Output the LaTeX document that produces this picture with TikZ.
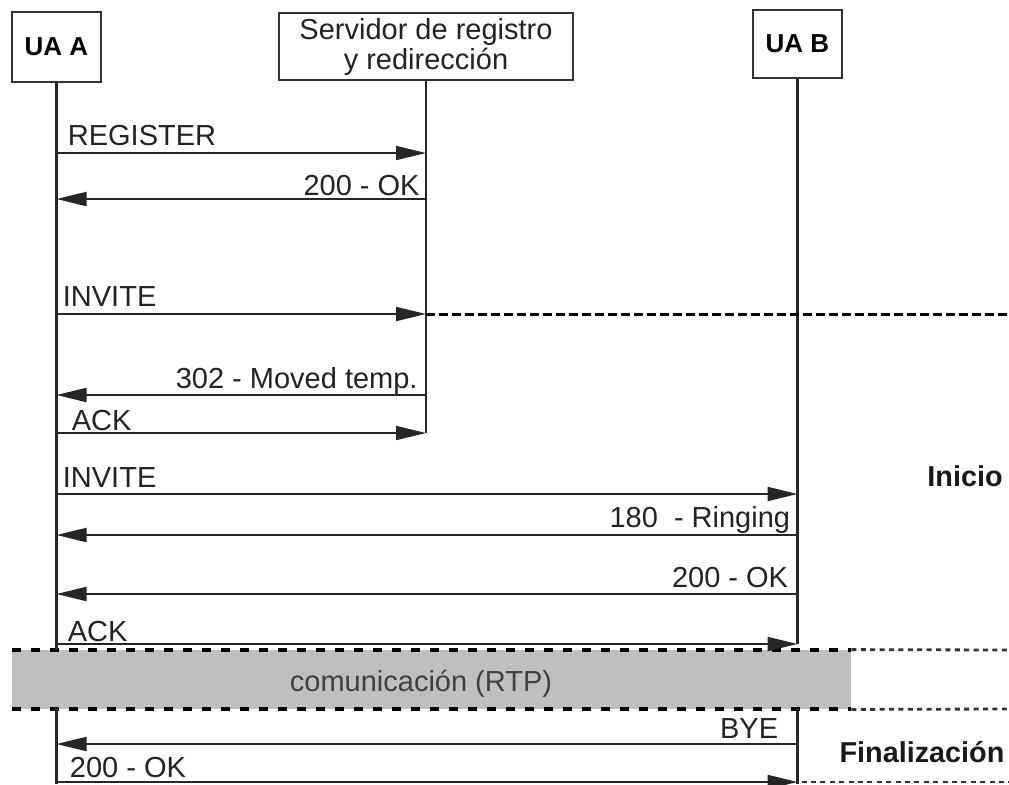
\documentclass[tikz,border=0pt]{standalone}
\usepackage{fontspec}
\setmainfont{Liberation Sans}
\usetikzlibrary{arrows.meta, positioning, calc}
\definecolor{cBand}{RGB}{191,191,191}
\definecolor{cText}{RGB}{35,35,35}
\tikzset{
	actor/.style={rectangle, draw=black!80, line width=1pt, fill=white, align=center, inner sep=0pt},
	lifeline/.style={line width=1.4pt, black!85},
	msg/.style={-{Triangle[length=15pt, width=7pt]}, line width=1pt, black!85},
	lbl/.style={inner sep=0pt, font=\fontsize{14.5}{15}\selectfont, text=cText},
	phase/.style={inner sep=0pt, font=\fontsize{14.4}{15}\selectfont\bfseries, text=black!90},
	invdash/.style={line width=1.5pt, dash pattern=on 4.5pt off 2pt},
	banddash/.style={line width=2pt, dash pattern=on 4.5pt off 5pt},
	bandtail/.style={line width=1.4pt, black!80, dash pattern=on 2.5pt off 2.2pt},
}
\begin{document}
\begin{tikzpicture}[x=0.5pt, y=-0.5pt]
	\useasboundingbox (0,0) rectangle (1009,784);
	% actors
	\node[actor, minimum width=44.5pt, minimum height=35pt, font=\fontsize{13}{14}\selectfont\bfseries] (uaA) at (56.5,47) {UA A};
	\node[actor, minimum width=147pt, minimum height=33.5pt, font=\fontsize{14.5}{15}\selectfont, text=cText] (srv) at (426,46.5) {Servidor de registro\\y redirección};
	\node[actor, minimum width=44.5pt, minimum height=34pt, font=\fontsize{13}{14}\selectfont\bfseries] (uaB) at (797.5,44) {UA B};
	% RTP band
	\node[rectangle, fill=cBand, inner sep=0pt, minimum width=419.5pt, minimum height=29.5pt] (rtp) at (431.5,679.5) {};
	\node[lbl, text=black!75] (rtpl) at (421,684) {comunicación (RTP)};
	\draw[banddash] (rtp.north west) -- (rtp.north east);
	\draw[banddash] (rtp.south west) -- (rtp.south east);
	\coordinate (t1) at (1009,650);
	\coordinate (t2) at (1009,709);
	\draw[bandtail] (rtp.north east) -- (t1);
	\draw[bandtail] (rtp.south east) -- (t2);
	% lifelines
	\draw[lifeline] (uaA.south) -- (uaA.south |- rtp.north);
	\draw[lifeline] (srv.south) -- (srv.south |- 0,433);
	\draw[lifeline] (uaB.south) -- (uaB.south |- 0,644);
	\draw[lifeline] (uaA.south |- rtp.south) -- (uaA.south |- 0,784);
	\draw[lifeline] (uaB.south |- rtp.south) -- (uaB.south |- 0,784);
	% registration
	\coordinate (a1) at (uaA.south |- 0,153); \coordinate (s1) at (srv.south |- 0,153);
	\draw[msg] (a1) -- (s1);
	\node[lbl, anchor=base west] (m1) at ($(a1)+(11,-8)$) {REGISTER};
	\coordinate (a2) at (uaA.south |- 0,199); \coordinate (s2) at (srv.south |- 0,199);
	\draw[msg] (s2) -- (a2);
	\node[lbl, anchor=base east] (m2) at ($(s2)+(-6,-4)$) {200 - OK};
	% redirection
	\coordinate (a3) at (uaA.south |- 0,314); \coordinate (s3) at (srv.south |- 0,314);
	\coordinate (e3) at (1009,314);
	\draw[msg] (a3) -- (s3);
	\draw[invdash] (s3) -- (e3);
	\node[lbl, anchor=base west] (m3) at ($(a3)+(6,-8)$) {INVITE};
	\coordinate (a4) at (uaA.south |- 0,395); \coordinate (s4) at (srv.south |- 0,395);
	\draw[msg] (s4) -- (a4);
	\node[lbl, anchor=base east] (m4) at ($(s4)+(-8,-7)$) {302 - Moved temp.};
	\coordinate (a5) at (uaA.south |- 0,433); \coordinate (s5) at (srv.south |- 0,433);
	\draw[msg] (a5) -- (s5);
	\node[lbl, anchor=base west] (m5) at ($(a5)+(15,-3)$) {ACK};
	% session set-up
	\coordinate (a6) at (uaA.south |- 0,494); \coordinate (b6) at (uaB.south |- 0,494);
	\draw[msg] (a6) -- (b6);
	\node[lbl, anchor=base west] (m6) at ($(a6)+(6,-7)$) {INVITE};
	\coordinate (a7) at (uaA.south |- 0,535); \coordinate (b7) at (uaB.south |- 0,535);
	\draw[msg] (b7) -- (a7);
	\node[lbl, anchor=base east] (m7) at ($(b7)+(-7,-8)$) {180 \ - Ringing};
	\coordinate (a8) at (uaA.south |- 0,594); \coordinate (b8) at (uaB.south |- 0,594);
	\draw[msg] (b8) -- (a8);
	\node[lbl, anchor=base east] (m8) at ($(b8)+(-9,-7)$) {200 - OK};
	\coordinate (a9) at (uaA.south |- 0,644); \coordinate (b9) at (uaB.south |- 0,644);
	\draw[msg] (a9) -- (b9);
	\node[lbl, anchor=base west] (m9) at ($(a9)+(11,-3)$) {ACK};
	% tear-down
	\coordinate (a10) at (uaA.south |- 0,744); \coordinate (b10) at (uaB.south |- 0,744);
	\draw[msg] (b10) -- (a10);
	\node[lbl, anchor=base east] (m10) at ($(b10)+(-19,-6)$) {BYE};
	\coordinate (a11) at (uaA.south |- 0,782); \coordinate (b11) at (uaB.south |- 0,782);
	\coordinate (e11) at (1009,782);
	\draw[msg] (a11) -- (b11);
	\draw[bandtail] ($(b11)+(4,0)$) -- (e11);
	\node[lbl, anchor=base west] (m11) at ($(a11)+(13,-5)$) {200 - OK};
	% phases
	\node[phase] (ini) at (965,476) {Inicio};
	\node[phase] (fin) at (922,752) {Finalización};
\end{tikzpicture}
\end{document}
